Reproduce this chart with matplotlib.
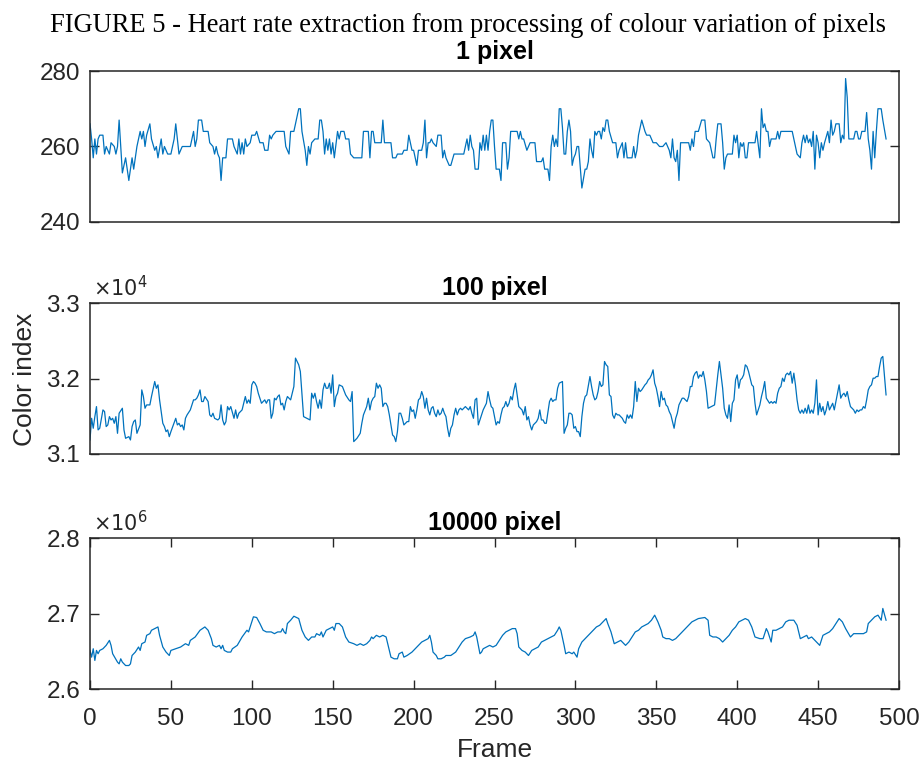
import matplotlib
matplotlib.use('Agg')
import matplotlib.pyplot as plt
import numpy as np

plt.rcParams['font.family'] = ['Liberation Sans', 'DejaVu Sans']

# panel titles / labels
titles = ['1 pixel', '100 pixel', '10000 pixel']
fig_title = 'FIGURE 5 - Heart rate extraction from processing of colour variation of pixels'

# 1 pixel
p1_frame = [0, 1, 2, 3, 4, 5, 6, 8, 9, 10, 12, 13, 15, 16, 17, 18, 20, 22, 24, 26, 27, 29, 31, 32, 33,
            34, 35, 37, 38, 40, 41, 42, 44, 45, 46, 48, 50, 52, 53, 55, 57, 62, 63, 64, 65, 66, 67, 69,
            70, 73, 74, 76, 77, 78, 79, 80, 81, 82, 84, 85, 88, 89, 91, 92, 93, 94, 95, 96, 97, 99, 100,
            102, 103, 105, 107, 108, 110, 111, 112, 113, 115, 116, 120, 121, 122, 123, 124, 126, 129,
            130, 131, 133, 134, 135, 136, 137, 139, 141, 142, 143, 144, 145, 146, 147, 148, 149, 150,
            151, 153, 154, 155, 157, 158, 160, 161, 163, 168, 169, 172, 173, 174, 175, 176, 178, 180,
            181, 182, 186, 187, 189, 190, 193, 194, 196, 197, 199, 200, 202, 203, 205, 206, 207, 208,
            209, 210, 211, 212, 214, 215, 217, 218, 219, 220, 222, 223, 225, 231, 233, 234, 235, 236,
            237, 238, 240, 241, 242, 243, 244, 245, 246, 247, 248, 249, 250, 251, 253, 254, 255, 257,
            258, 259, 260, 264, 265, 266, 267, 268, 270, 271, 272, 275, 276, 279, 280, 281, 283, 284,
            285, 286, 287, 288, 289, 290, 291, 292, 293, 294, 295, 296, 297, 298, 299, 300, 301, 302,
            304, 306, 307, 308, 309, 310, 311, 312, 313, 314, 315, 316, 317, 318, 319, 320, 321, 323,
            325, 326, 327, 329, 330, 331, 332, 335, 336, 337, 338, 339, 340, 341, 343, 344, 346, 348,
            350, 352, 354, 356, 358, 359, 360, 361, 362, 363, 364, 365, 370, 371, 372, 373, 374, 376,
            378, 380, 381, 383, 384, 385, 386, 387, 388, 390, 391, 392, 393, 394, 397, 398, 399, 400,
            401, 402, 403, 404, 405, 406, 407, 411, 412, 414, 415, 416, 417, 418, 419, 420, 421, 424,
            425, 426, 427, 434, 435, 437, 439, 440, 441, 442, 443, 444, 445, 446, 447, 448, 449, 450,
            451, 452, 453, 454, 456, 457, 458, 459, 460, 461, 462, 463, 464, 465, 466, 467, 468, 469,
            472, 473, 474, 475, 476, 477, 479, 480, 481, 482, 483, 484, 485, 486, 487, 489, 490, 492]
p1_value = [266, 262, 257, 262, 258, 262, 263, 263, 258, 260, 258, 261, 260, 258, 260, 267, 253, 257,
            251, 257, 254, 260, 264, 262, 264, 260, 263, 266, 262, 259, 260, 257, 262, 258, 260, 258,
            258, 262, 266, 258, 260, 260, 262, 264, 260, 262, 267, 267, 264, 264, 261, 260, 258, 260,
            258, 257, 251, 257, 257, 262, 262, 260, 258, 262, 258, 261, 258, 262, 260, 261, 263, 263,
            264, 261, 261, 259, 259, 263, 262, 263, 264, 264, 264, 260, 259, 258, 264, 264, 270, 270,
            264, 259, 255, 260, 258, 261, 262, 262, 267, 267, 264, 258, 262, 259, 262, 258, 261, 257,
            264, 262, 264, 264, 262, 262, 258, 257, 257, 264, 264, 257, 264, 264, 261, 261, 261, 267,
            261, 261, 257, 257, 258, 258, 259, 259, 263, 259, 259, 255, 259, 259, 261, 267, 257, 261,
            261, 262, 261, 260, 263, 263, 257, 259, 257, 255, 255, 258, 258, 262, 259, 263, 260, 259,
            254, 254, 261, 259, 263, 259, 263, 259, 264, 267, 267, 260, 254, 254, 251, 261, 261, 254,
            257, 264, 264, 262, 264, 262, 262, 259, 260, 261, 261, 256, 256, 257, 254, 254, 251, 260,
            263, 260, 262, 260, 270, 270, 265, 258, 258, 264, 267, 264, 255, 257, 258, 260, 260, 249,
            254, 254, 256, 262, 259, 257, 264, 263, 264, 264, 262, 265, 264, 267, 267, 264, 261, 261,
            257, 259, 261, 257, 261, 257, 257, 260, 257, 259, 263, 265, 267, 264, 263, 263, 261, 261,
            260, 260, 261, 259, 257, 262, 257, 256, 259, 251, 261, 261, 259, 262, 260, 264, 264, 267,
            267, 262, 261, 259, 257, 257, 262, 266, 266, 261, 254, 257, 258, 258, 263, 261, 263, 257,
            261, 260, 261, 257, 257, 261, 261, 264, 257, 270, 265, 266, 264, 264, 260, 262, 262, 264,
            262, 264, 264, 262, 258, 257, 261, 263, 261, 263, 261, 262, 260, 264, 254, 263, 261, 257,
            261, 259, 261, 264, 261, 267, 263, 264, 266, 266, 266, 261, 263, 262, 278, 273, 262, 262,
            264, 264, 262, 262, 264, 264, 269, 262, 259, 254, 264, 257, 264, 270, 270, 267, 262]

# 100 pixel
p2_frame = list(range(0, 7)) + [8, 9, 10, 11, 12, 13, 14, 15, 16, 17, 18, 20, 21, 22, 24, 25, 26, 27,
            28, 29, 31, 32, 33, 34, 35, 37, 38, 40, 41, 42, 43, 45, 46, 47, 48, 49, 50, 53, 54, 55, 56,
            57, 58, 59, 60, 62, 64, 65, 66, 67, 68, 69, 70, 71, 73, 74, 75, 76, 77, 79, 80, 81, 82, 83,
            84, 85, 86, 87, 89, 90, 91, 92, 93, 94, 95, 96, 97, 98, 99, 100, 101, 102, 103, 104, 105,
            106, 107, 108, 109, 110, 111, 112, 113, 114, 115, 116, 117, 118, 119, 120, 121, 122, 124,
            125, 126, 127, 129, 130, 132, 134, 136, 137, 138, 139, 140, 141, 142, 143, 144, 145, 146,
            147, 148, 149, 150, 151, 152, 153, 154, 156, 158, 160, 161, 162, 163, 165, 167, 168, 169,
            171, 172, 173, 174, 175, 176, 177, 178, 179, 180, 181, 182, 183, 184, 185, 186, 187, 188,
            189, 190, 191, 192, 193, 194, 196, 197, 198, 199, 200, 201, 202, 203, 204, 205, 206, 207,
            208, 209, 210, 211, 212, 213, 214, 215, 216, 217, 218, 219, 220, 221, 222, 223, 224, 225,
            226, 227, 228, 229, 230, 232, 234, 235, 236, 237, 238, 239, 240, 241, 242, 243, 244, 245,
            246, 247, 248, 249, 250, 251, 252, 253, 254, 255, 256, 257, 258, 259, 260, 261, 262, 263,
            264, 265, 266, 267, 268, 269, 270, 271, 272, 273, 274, 275, 276, 277, 278, 279, 280, 281,
            282, 284, 285, 286, 287, 288, 289, 290, 292, 293, 294, 295, 296, 297, 298, 299, 300, 301,
            302, 303, 304, 305, 306, 307, 309, 310, 311, 312, 313, 314, 315, 316, 317, 318, 319, 320,
            321, 322, 323, 324, 325, 326, 327, 328, 329, 330, 331, 332, 333, 334, 335, 336, 337, 338,
            339, 340, 341, 343, 344, 345, 346, 347, 348, 349, 350, 351, 352, 353, 354, 355, 356, 357,
            358, 359, 360, 361, 362, 363, 364, 365, 366, 367, 368, 369, 370, 371, 372, 373, 374, 375,
            376, 377, 378, 379, 380, 381, 382, 384, 386, 387, 388, 389, 391, 392, 393, 394, 395, 396,
            397, 398, 399, 400, 401, 402, 403, 404, 405, 406, 407, 408, 409, 410, 411, 412, 413, 414,
            415, 416, 417, 418, 420, 421, 422, 423, 424, 425, 426, 427, 428, 429, 430, 431, 432, 433,
            434, 435, 436, 437, 438, 439, 440, 441, 442, 443, 444, 445, 446, 447, 448, 449, 450, 451,
            452, 453, 454, 455, 456, 457, 458, 459, 460, 461, 462, 463, 464, 465, 466, 467, 468, 469,
            470, 471, 472, 473, 474, 475, 476, 477, 478, 479, 480, 481, 482, 483, 484, 485, 486, 487,
            488, 489, 490, 492]
p2_value = [31186, 31473, 31341, 31495, 31628, 31319, 31341, 31584, 31562, 31363, 31385, 31495, 31451,
            31473, 31407, 31495, 31274, 31540, 31606, 31319, 31208, 31230, 31186, 31363, 31429, 31451,
            31274, 31385, 31849, 31761, 31606, 31650, 31650, 31761, 31960, 31871, 31916, 31717, 31407,
            31363, 31296, 31319, 31230, 31296, 31473, 31385, 31407, 31363, 31385, 31319, 31473, 31518,
            31584, 31717, 31717, 31739, 31783, 31849, 31695, 31695, 31761, 31695, 31518, 31495, 31540,
            31473, 31451, 31473, 31650, 31451, 31385, 31429, 31628, 31584, 31628, 31473, 31584, 31473,
            31540, 31562, 31584, 31672, 31761, 31672, 31717, 31672, 31916, 31960, 31938, 31894, 31805,
            31739, 31672, 31695, 31717, 31672, 31717, 31717, 31473, 31540, 31739, 31717, 31761, 31783,
            31650, 31672, 31584, 31695, 31761, 31717, 31805, 31894, 32270, 32181, 32093, 31495, 31473,
            31451, 31805, 31739, 31805, 31695, 31606, 31717, 31606, 31849, 31938, 31871, 31871, 31938,
            31805, 32048, 31628, 31761, 31805, 31916, 31894, 31783, 31717, 31695, 31827, 31164, 31208,
            31274, 31407, 31518, 31628, 31739, 31584, 31695, 31739, 31761, 31938, 31871, 31916, 31871,
            31628, 31672, 31672, 31628, 31518, 31385, 31252, 31230, 31164, 31296, 31540, 31540, 31473,
            31385, 31429, 31429, 31628, 31562, 31584, 31473, 31584, 31717, 31739, 31827, 31761, 31606,
            31739, 31584, 31518, 31606, 31628, 31540, 31495, 31584, 31518, 31540, 31606, 31540, 31495,
            31341, 31230, 31341, 31385, 31518, 31606, 31518, 31584, 31606, 31584, 31628, 31584, 31628,
            31540, 31473, 31717, 31739, 31385, 31451, 31518, 31584, 31628, 31672, 31827, 31717, 31628,
            31606, 31495, 31385, 31429, 31407, 31518, 31606, 31628, 31695, 31628, 31672, 31761, 31717,
            31849, 31938, 31783, 31628, 31606, 31584, 31518, 31628, 31451, 31495, 31385, 31319, 31385,
            31407, 31429, 31473, 31584, 31451, 31451, 31407, 31407, 31695, 31739, 31695, 31717, 31717,
            31871, 31938, 31960, 31274, 31341, 31385, 31540, 31540, 31518, 31341, 31363, 31296, 31296,
            31230, 31495, 31672, 31761, 31783, 32026, 31894, 31783, 31717, 31739, 31827, 31960, 31894,
            31916, 32225, 32181, 32159, 31783, 31761, 31518, 31473, 31540, 31518, 31518, 31495, 31473,
            31429, 31407, 31518, 31473, 31518, 31473, 31628, 31960, 31695, 31871, 31827, 31849, 31916,
            31938, 31982, 32004, 32048, 32115, 31938, 31871, 31761, 31628, 31827, 31717, 31739, 31650,
            31628, 31562, 31518, 31429, 31341, 31473, 31540, 31650, 31695, 31739, 31739, 31717, 31695,
            31761, 31894, 31894, 32026, 32071, 32093, 32004, 32048, 32026, 32093, 31982, 31827, 31606,
            31628, 31650, 31849, 32048, 32225, 31871, 31606, 31518, 31473, 31650, 31429, 31672, 31717,
            31982, 32048, 31871, 31982, 32004, 32048, 32181, 32159, 32093, 32004, 31916, 31894, 31672,
            31518, 31584, 31650, 31761, 31849, 31960, 31739, 31672, 31695, 31672, 31695, 31672, 31805,
            31871, 31894, 32004, 31960, 32048, 32071, 32048, 32093, 31938, 32071, 31916, 31717, 31584,
            31540, 31584, 31540, 31606, 31540, 31650, 31540, 31584, 31540, 31672, 31982, 31518,
            31672, 31562, 31628, 31518, 31584, 31695, 31584, 31628, 31672, 31584, 31695, 31805, 31916,
            31739, 31783, 31805, 31761, 31827, 31717, 31628, 31606, 31584, 31540, 31584, 31562, 31584,
            31584, 31628, 31606, 31717, 31849, 31894, 31916, 32004, 32004, 32026, 32026, 32159, 32270,
            32292, 31783]

# 10000 pixel (values in thousands)
p3_frame = [0, 1, 2, 3, 4, 5, 6, 8, 10, 12, 13, 14, 17, 18, 19, 20, 22, 24, 25, 26, 28, 30, 31, 32, 34,
            35, 37, 38, 40, 42, 43, 45, 47, 49, 50, 53, 56, 59, 61, 62, 65, 68, 71, 73, 75, 76, 78, 80,
            81, 82, 83, 85, 87, 88, 91, 94, 97, 98, 99, 101, 103, 105, 107, 109, 112, 114, 116, 118,
            119, 120, 121, 122, 124, 126, 129, 131, 133, 135, 137, 139, 140, 142, 143, 144, 146, 148,
            150, 151, 152, 154, 156, 158, 160, 163, 165, 167, 169, 171, 173, 174, 175, 177, 179, 181,
            183, 185, 186, 188, 190, 191, 193, 194, 196, 199, 201, 203, 205, 207, 209, 210, 211, 212,
            214, 215, 217, 219, 220, 223, 226, 228, 230, 232, 235, 237, 238, 239, 240, 241, 242, 243,
            245, 247, 249, 251, 253, 255, 257, 259, 261, 263, 264, 265, 267, 269, 271, 273, 275, 277,
            279, 281, 283, 285, 287, 289, 290, 291, 293, 294, 296, 298, 299, 301, 302, 304, 307, 309,
            311, 313, 315, 317, 319, 320, 322, 324, 326, 328, 329, 331, 333, 335, 337, 339, 341, 343,
            345, 347, 349, 351, 353, 354, 356, 358, 360, 362, 364, 366, 368, 370, 372, 374, 376, 380,
            382, 383, 385, 387, 389, 391, 393, 395, 397, 399, 401, 403, 405, 407, 409, 411, 414, 416,
            418, 419, 421, 422, 424, 426, 428, 430, 432, 435, 437, 439, 441, 443, 444, 446, 448, 451,
            453, 455, 457, 459, 461, 463, 465, 467, 470, 472, 474, 476, 478, 480, 481, 483, 485, 487,
            489, 490, 492]
p3_value_k = [2651.1, 2642.2, 2653.3, 2637.8, 2651.1, 2646.7, 2651.1, 2653.3, 2657.8, 2664.4, 2657.8,
              2646.7, 2635.6, 2633.3, 2640.0, 2635.6, 2631.1, 2631.1, 2633.3, 2644.4, 2648.9, 2655.6,
              2651.1, 2660.0, 2662.2, 2671.1, 2673.3, 2677.8, 2680.0, 2682.2, 2671.1, 2655.6, 2648.9,
              2644.4, 2651.1, 2653.3, 2655.6, 2660.0, 2657.8, 2664.4, 2668.9, 2677.8, 2682.2, 2677.8,
              2666.7, 2657.8, 2655.6, 2657.8, 2653.3, 2657.8, 2651.1, 2648.9, 2648.9, 2653.3, 2657.8,
              2668.9, 2677.8, 2675.6, 2682.2, 2695.6, 2694.7, 2686.7, 2677.8, 2675.6, 2675.6, 2673.3,
              2675.6, 2675.6, 2680.0, 2675.6, 2673.3, 2686.7, 2691.1, 2696.4, 2693.3, 2677.8, 2668.9,
              2664.4, 2668.9, 2668.9, 2673.3, 2671.1, 2675.6, 2668.9, 2677.8, 2680.0, 2682.2, 2677.8,
              2686.7, 2686.7, 2682.2, 2668.9, 2662.2, 2660.0, 2657.8, 2660.0, 2657.8, 2660.0, 2664.4,
              2668.9, 2666.7, 2671.1, 2668.9, 2671.1, 2668.9, 2651.1, 2642.2, 2640.0, 2640.0, 2646.7,
              2648.9, 2642.2, 2644.4, 2648.9, 2653.3, 2657.8, 2662.2, 2664.4, 2666.7, 2671.1, 2662.2,
              2648.9, 2644.4, 2640.0, 2640.0, 2642.2, 2644.4, 2644.4, 2648.9, 2655.6, 2662.2, 2666.7,
              2668.9, 2671.1, 2675.6, 2668.9, 2657.8, 2646.7, 2648.9, 2653.3, 2655.6, 2657.8, 2655.6,
              2657.8, 2664.4, 2671.1, 2675.6, 2677.8, 2680.0, 2680.0, 2673.3, 2655.6, 2651.1, 2648.9,
              2644.4, 2651.1, 2653.3, 2655.6, 2662.2, 2664.4, 2666.7, 2668.9, 2671.1, 2677.8, 2682.2,
              2677.8, 2657.8, 2646.7, 2648.9, 2646.7, 2648.9, 2642.2, 2653.3, 2662.2, 2668.9, 2673.3,
              2677.8, 2682.2, 2684.4, 2688.9, 2693.3, 2686.7, 2675.6, 2660.0, 2662.2, 2664.4, 2662.2,
              2657.8, 2662.2, 2668.9, 2675.6, 2677.8, 2682.2, 2684.4, 2686.7, 2691.1, 2697.8, 2688.9,
              2677.8, 2668.9, 2666.7, 2666.7, 2664.4, 2666.7, 2671.1, 2675.6, 2680.0, 2684.4, 2688.9,
              2691.1, 2693.3, 2694.7, 2691.1, 2671.1, 2668.9, 2668.9, 2666.7, 2662.2, 2666.7, 2671.1,
              2677.8, 2682.2, 2688.9, 2691.1, 2693.3, 2691.1, 2682.2, 2668.9, 2666.7, 2666.7, 2680.0,
              2675.6, 2662.2, 2677.8, 2677.8, 2680.0, 2682.2, 2688.9, 2691.1, 2691.1, 2684.4, 2666.7,
              2668.9, 2671.1, 2666.7, 2668.9, 2664.4, 2657.8, 2671.1, 2673.3, 2675.6, 2680.0, 2686.7,
              2693.3, 2688.9, 2680.0, 2668.9, 2673.3, 2673.3, 2673.3, 2673.3, 2675.6, 2686.7, 2691.1,
              2695.6, 2697.8, 2691.1, 2706.7, 2691.1]

frames = [p1_frame, p2_frame, p3_frame]
values = [p1_value, p2_value, list(np.array(p3_value_k) * 1000)]
yticks = [[240, 260, 280], [31000, 32000, 33000], [2.6e6, 2.7e6, 2.8e6]]
ylims = [(240, 280), (31000, 33000), (2.6e6, 2.8e6)]
exponents = [None, 4, 6]
xticks = list(range(0, 501, 50))

line_color = '#0072BD'
ax_color = '#262626'

fig = plt.figure(figsize=(9.23, 7.65), dpi=100)
W, H = 923, 765
ax_tops = [71, 303, 538]
ax_h = 151
title_pads = [9, 6, 6]

for i in range(3):
    ax = fig.add_axes([90 / W, 1 - (ax_tops[i] + ax_h) / H, 809 / W, ax_h / H])
    ax.plot(frames[i], values[i], color=line_color, lw=0.9)
    ax.set_xlim(0, 500)
    ax.set_ylim(*ylims[i])
    ax.set_yticks(yticks[i])
    if exponents[i] is None:
        ax.set_yticklabels([str(v) for v in yticks[i]])
    else:
        ax.set_yticklabels([f'{v / 10 ** exponents[i]:.1f}' for v in yticks[i]])
        ax.text(0.004, 1.02, r'$\times10^{%d}$' % exponents[i], transform=ax.transAxes,
                fontsize=15, color=ax_color, ha='left', va='bottom')
    if i < 2:
        ax.set_xticks([])
    else:
        ax.set_xticks(xticks)
    ax.tick_params(direction='in', length=6.5, width=1.0, colors=ax_color,
                   labelsize=17.5, left=True, right=True, top=(i == 2), bottom=(i == 2))
    ax.tick_params(axis='y', pad=7)
    ax.tick_params(axis='x', pad=14)
    for sp in ax.spines.values():
        sp.set_color(ax_color)
        sp.set_linewidth(1.1)
    ax.set_title(titles[i], fontsize=18, fontweight='bold', color='black', pad=title_pads[i])

fig.text(32 / W, 1 - 379.5 / H, 'Color index', rotation=90, rotation_mode='anchor',
         ha='center', va='baseline', fontsize=19, color=ax_color)
fig.text(494.5 / W, 1 - 757 / H, 'Frame', ha='center', va='baseline', fontsize=19, color=ax_color)
fig.text(468 / W, 1 - 32 / H, fig_title, ha='center', va='baseline', fontsize=19.1,
         family=['Liberation Serif', 'DejaVu Serif'], color='black')

fig.savefig('out.png', dpi=100)
